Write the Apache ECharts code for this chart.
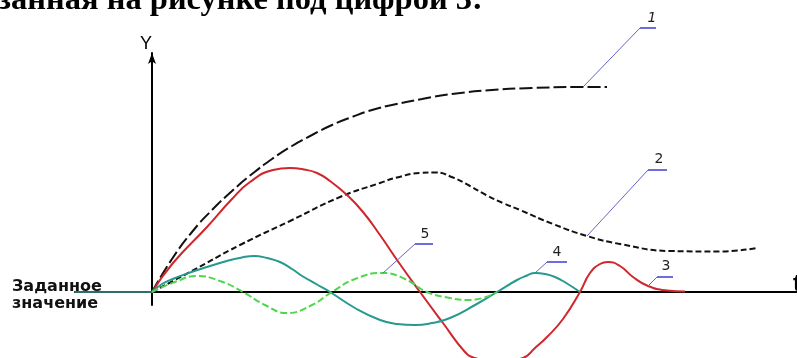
<!DOCTYPE html>
<html>
<head>
<meta charset="utf-8">
<script src="https://cdn.jsdelivr.net/npm/echarts@6/dist/echarts.min.js"></script>
<style>
  html, body { margin: 0; padding: 0; background: #ffffff; }
  #chart { width: 797px; height: 358px; }
</style>
</head>
<body>
<div id="chart"></div>
<script>
// Transient responses of a controlled variable Y(t) for five variants.
const curveNames = ['1', '2', '3', '4', '5'];

const curve1 = [[0,0],[2,3.3],[4,6.0],[6,8.2],[8,10.1],[10,11.8],[12,13.3],[14,14.6],[16,15.7],[18,16.7],[20,17.5],[22,18.2],[24,18.7],[27,19.3],[30,19.8],[34,20.2],[38,20.4],[43.1,20.5],[45.5,20.5]];
const curve2 = [[0,0],[3.8,2.0],[8.8,4.7],[13.8,7.1],[18.8,9.5],[22.8,10.9],[24.5,11.45],[26.8,11.9],[28.3,11.95],[30.1,11.45],[31.8,10.6],[33.4,9.7],[35.1,8.9],[36.8,8.2],[40.1,6.8],[43.5,5.6],[46.8,4.8],[51.8,4.1],[56.8,4.05],[60.5,4.4]];
const curve3 = [[0,0],[2.1,2.9],[5.5,6.5],[8,9.3],[9.8,11.0],[12.1,12.2],[13.8,12.4],[15.2,12.25],[16.5,11.9],[17.8,11.1],[19.5,9.7],[21.1,8.0],[22.8,5.7],[24.5,3.2],[26.8,0],[29.1,-3.1],[31.3,-6.0],[32.3,-6.6],[34.6,-7.0],[37.1,-6.6],[38.3,-5.6],[39.5,-4.5],[41.1,-2.7],[42.8,0],[43.8,1.9],[44.8,2.8],[45.6,3.0],[46.8,2.6],[48.1,1.5],[49.6,0.6],[51.5,0.15],[53.3,0.05]];
const curve4 = [[0,0],[1,0.8],[2.2,1.35],[3.8,1.95],[5.5,2.5],[7.3,3.05],[9,3.45],[10.2,3.6],[11.5,3.4],[12.8,3.0],[14,2.3],[15.1,1.55],[16.5,0.75],[17.8,0],[20.3,-1.6],[22.8,-2.8],[24.5,-3.2],[26.3,-3.3],[28,-3.1],[29.8,-2.6],[32.3,-1.3],[34.5,0],[36.5,1.2],[37.5,1.65],[38.3,1.9],[39.3,1.8],[40.3,1.5],[41.5,0.85],[42.8,0]];
const curve5 = [[0,0],[2.3,1.0],[4.5,1.6],[6.8,1.1],[9.1,0],[11.3,-1.3],[13.5,-2.1],[15.8,-1.4],[18,0],[20.3,1.3],[23.1,1.9],[25.3,1.3],[27.5,0],[29.8,-0.6],[31.8,-0.8],[34.5,0]];
// Level held before the disturbance
const setpoint = [[-7.7,0],[0,0]];
// Which data point of each curve carries its numbered callout
const calloutIndex = [17, 15, 29, 24, 10];

const headingText = 'занная на рисунке под цифрой 3:';
const setpointText = 'Заданное\nзначение';
const axisNameY = 'Y';
const axisNameT = 't';

// Styling
const curveStyles = [
  { color: '#111111', type: [13, 4] },
  { color: '#111111', type: [6, 3] },
  { color: '#d0262b', type: 'solid' },
  { color: '#27998f', type: 'solid' },
  { color: '#4fd64f', type: [7, 3] }
];
const calloutGeom = [
  { dx: 57, dy: -59, len: 16, lx: 12, ly: -10, italic: true },
  { dx: 61, dy: -66, len: 19, lx: 11, ly: -11 },
  { dx: 9,  dy: -9,  len: 16, lx: 9,  ly: -11 },
  { dx: 12, dy: -11, len: 20, lx: 10, ly: -10 },
  { dx: 32, dy: -29, len: 18, lx: 10, ly: -10 }
];

const chart = echarts.init(document.getElementById('chart'), null, { renderer: 'canvas' });
const curves = [curve1, curve2, curve3, curve4, curve5];

const series = curves.map((data, i) => ({
  name: curveNames[i],
  type: 'line',
  data: data,
  smooth: 0.5,
  symbol: 'none',
  clip: false,
  lineStyle: { color: curveStyles[i].color, width: 2, type: curveStyles[i].type },
  z: 3 + i
}));
series.push({
  name: 'setpoint',
  type: 'line',
  data: setpoint,
  symbol: 'none',
  clip: false,
  lineStyle: { color: '#2a6f6c', width: 2 },
  z: 3
});

chart.setOption({
  animation: false,
  backgroundColor: '#ffffff',
  grid: { left: 75, right: 0, top: 53, bottom: 53, containLabel: false, outerBoundsMode: 'none' },
  xAxis: {
    type: 'value', min: -7.7, max: 64.5,
    name: axisNameT, nameLocation: 'end', nameGap: -4,
    nameTextStyle: { fontFamily: 'Liberation Sans', fontWeight: 'bold', fontSize: 24, color: '#000', verticalAlign: 'bottom', padding: [0, 0, -4, 0] },
    axisLine: { onZero: true, lineStyle: { color: '#000', width: 2 } },
    axisTick: { show: false }, axisLabel: { show: false }, splitLine: { show: false }
  },
  yAxis: {
    type: 'value', min: -1.3, max: 23.9,
    name: axisNameY, nameLocation: 'end', nameGap: 0,
    nameTextStyle: { fontFamily: 'Liberation Sans', fontSize: 18, color: '#000', align: 'right', padding: [0, 0, 0, 0] },
    axisLine: { onZero: true, symbol: ['none', 'arrow'], symbolSize: [6, 11], lineStyle: { color: '#000', width: 2 } },
    axisTick: { show: false }, axisLabel: { show: false }, splitLine: { show: false }
  },
  series: series
});

// Callouts: a leader from a curve point, an underline and the curve number
const graphics = [];
curves.forEach((data, i) => {
  const p = chart.convertToPixel({ seriesIndex: i }, data[calloutIndex[i]]);
  const g = calloutGeom[i];
  const ex = p[0] + g.dx, ey = p[1] + g.dy;
  graphics.push({
    type: 'line', z: 20,
    shape: { x1: p[0], y1: p[1], x2: ex, y2: ey },
    style: { stroke: '#6464c8', lineWidth: 1 }
  });
  graphics.push({
    type: 'line', z: 20,
    shape: { x1: ex, y1: ey, x2: ex + g.len, y2: ey },
    style: { stroke: '#3c3cd2', lineWidth: 1.5 }
  });
  graphics.push({
    type: 'text', z: 21,
    style: {
      text: curveNames[i], x: ex + g.lx, y: ey + g.ly,
      fontFamily: 'DejaVu Sans', fontSize: 14, fontStyle: g.italic ? 'italic' : 'normal',
      fill: '#222', align: 'center', verticalAlign: 'middle',
      textAlign: 'center', textVerticalAlign: 'middle'
    }
  });
});
graphics.push({
  type: 'text', z: 21,
  style: {
    text: headingText, x: -2, y: 17,
    fontFamily: 'Liberation Serif', fontWeight: 'bold', fontSize: 32.5,
    fill: '#000', align: 'left', verticalAlign: 'bottom',
    textAlign: 'left', textVerticalAlign: 'bottom'
  }
});
graphics.push({
  type: 'text', z: 21,
  style: {
    text: setpointText, x: 12, y: 278,
    fontFamily: 'DejaVu Sans', fontWeight: 'bold', fontSize: 16, lineHeight: 17,
    fill: '#111', align: 'left', verticalAlign: 'top',
    textAlign: 'left', textVerticalAlign: 'top'
  }
});
chart.setOption({ graphic: graphics });
</script>
</body>
</html>
